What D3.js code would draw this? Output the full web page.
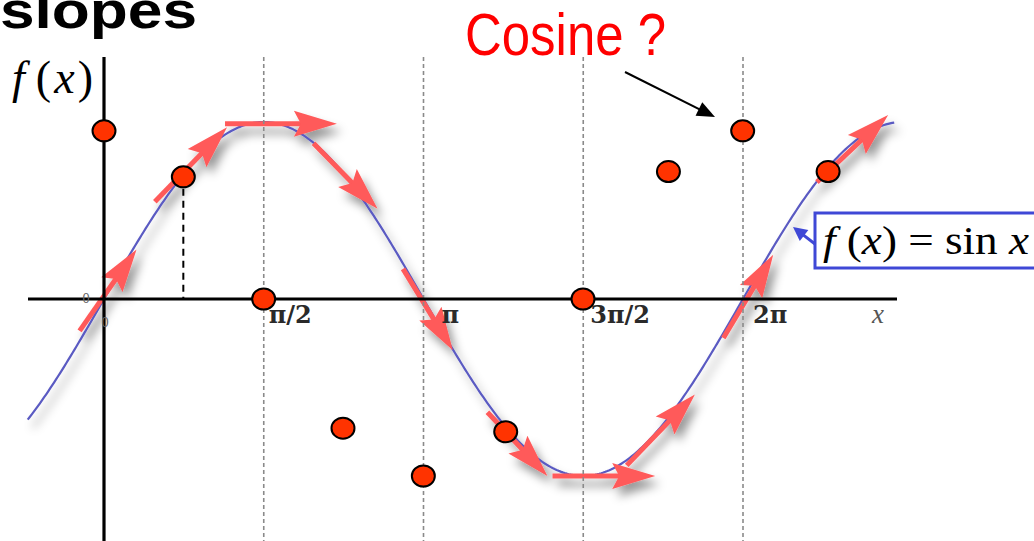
<!DOCTYPE html>
<html>
<head>
<meta charset="utf-8">
<script src="https://cdn.jsdelivr.net/npm/d3@7"></script>
<style>
  html, body { margin: 0; padding: 0; background: #fff; }
  svg { display: block; }
</style>
</head>
<body>
<svg id="chart" width="1034" height="541"></svg>
<script>
// ---- data -------------------------------------------------------------
// tick marks along x (radians) and their labels
const tickValues = [Math.PI / 2, Math.PI, 3 * Math.PI / 2, 2 * Math.PI];
const tickLabels = ["π/2", "π", "3π/2", "2π"];

// extent of the plotted sine curve (radians)
const curveDomain = [-0.75, 7.78];

// hand-placed cosine estimates (dots): x in radians, value
const dotX = [0, 0.78, 1.57, 2.35, 3.14, 3.95, 4.71, 5.55, 6.28, 7.12];
const dotY = [0.95, 0.69, 0, -0.73, -1.0, -0.75, 0, 0.72, 0.95, 0.72];

// slope arrows drawn along the curve: start and end points (x rad, y value)
const arrowX0 = [-0.24, 0.50, 1.19, 2.06, 2.94, 3.77, 4.41, 5.14, 6.09, 7.01];
const arrowY0 = [-0.18, 0.55, 0.99, 0.88, 0.17, -0.64, -1.0, -0.94, -0.22, 0.66];
const arrowX1 = [0.32, 1.21, 2.29, 2.69, 3.43, 4.36, 5.42, 5.81, 6.58, 7.71];
const arrowY1 = [0.28, 0.97, 0.99, 0.51, -0.29, -1.0, -1.0, -0.54, 0.25, 1.04];

// dashed drop line from the π/4 estimate
const dropX = 0.78;
const dropY = 0.69;

// ---- scales -----------------------------------------------------------
const x = d3.scaleLinear().domain([0, 2 * Math.PI]).range([104, 743]);
const y = d3.scaleLinear().domain([-1, 1]).range([476, 122]);

const svg = d3.select("#chart");
const defs = svg.append("defs");

const shadow = defs.append("filter").attr("id", "soft")
  .attr("x", "-20%").attr("y", "-20%").attr("width", "140%").attr("height", "140%");
shadow.append("feDropShadow")
  .attr("dx", 5).attr("dy", 8).attr("stdDeviation", 5)
  .attr("flood-color", "#000").attr("flood-opacity", 0.4);

// ---- title fragments ---------------------------------------------------
svg.append("text")
  .attr("x", 0).attr("y", 28)
  .attr("font-family", "Liberation Sans, Arial, sans-serif")
  .attr("font-weight", "bold").attr("font-size", 52)
  .attr("textLength", 197).attr("lengthAdjust", "spacingAndGlyphs")
  .text("slopes");

svg.append("text")
  .attr("x", 465).attr("y", 55)
  .attr("font-family", "Liberation Sans Narrow, Arial Narrow, Liberation Sans, sans-serif")
  .attr("font-size", 60).attr("fill", "#ff0000")
  .attr("textLength", 201).attr("lengthAdjust", "spacingAndGlyphs")
  .text("Cosine ?");

// ---- curve + slope arrows (with soft shadow) --------------------------
const plot = svg.append("g").attr("filter", "url(#soft)");

const samples = d3.range(curveDomain[0], curveDomain[1] + 0.001, 0.02);
const line = d3.line().x(d => x(d)).y(d => y(Math.sin(d)));
plot.append("path")
  .attr("d", line(samples))
  .attr("fill", "none").attr("stroke", "#5a5ac2").attr("stroke-width", 2.2);

const arrowColor = "#ff5a5a";
const headLen = 43, headHalf = 13, notch = 7;
arrowX0.forEach((_, i) => {
  const p0 = [x(arrowX0[i]), y(arrowY0[i])];
  const p1 = [x(arrowX1[i]), y(arrowY1[i])];
  const dx = p1[0] - p0[0], dy = p1[1] - p0[1];
  const len = Math.hypot(dx, dy);
  const ux = dx / len, uy = dy / len;
  const stop = [p1[0] - ux * (headLen - notch - 2), p1[1] - uy * (headLen - notch - 2)];
  plot.append("line")
    .attr("x1", p0[0]).attr("y1", p0[1])
    .attr("x2", stop[0]).attr("y2", stop[1])
    .attr("stroke", arrowColor).attr("stroke-width", 5);
  const bx = p1[0] - ux * headLen, by = p1[1] - uy * headLen;
  const nx = -uy, ny = ux;
  const pts = [
    [p1[0], p1[1]],
    [bx + nx * headHalf, by + ny * headHalf],
    [p1[0] - ux * (headLen - notch), p1[1] - uy * (headLen - notch)],
    [bx - nx * headHalf, by - ny * headHalf]
  ];
  plot.append("path")
    .attr("d", "M" + pts.map(p => p.join(",")).join("L") + "Z")
    .attr("fill", arrowColor);
});

// ---- dotted guide lines at the labelled ticks --------------------------
svg.append("g").selectAll("line").data(tickValues).join("line")
  .attr("x1", d => x(d)).attr("x2", d => x(d))
  .attr("y1", 57).attr("y2", 541)
  .attr("stroke", "#8a8a8a").attr("stroke-width", 1.6)
  .attr("stroke-dasharray", "4,3");

// ---- axes --------------------------------------------------------------
svg.append("line")
  .attr("x1", 28).attr("x2", 897).attr("y1", y(0)).attr("y2", y(0))
  .attr("stroke", "#000").attr("stroke-width", 3.2);
svg.append("line")
  .attr("x1", x(0)).attr("x2", x(0)).attr("y1", 57).attr("y2", 541)
  .attr("stroke", "#000").attr("stroke-width", 3.2);

// origin marks
svg.append("text").attr("x", x(0) - 18).attr("y", y(0) + 4)
  .attr("text-anchor", "middle").attr("font-family", "DejaVu Serif, serif")
  .attr("font-size", 12).attr("fill", "#666").text("0");
svg.append("text").attr("x", x(0) + 1).attr("y", y(0) + 28)
  .attr("text-anchor", "middle").attr("font-family", "DejaVu Serif, serif")
  .attr("font-size", 12).attr("fill", "#666").text("0");

// tick labels
const labelNudge = [5, 18, 7, 10];
svg.append("g").selectAll("text").data(tickValues).join("text")
  .attr("x", (d, i) => x(d) + labelNudge[i])
  .attr("y", y(0) + 24)
  .attr("font-family", "DejaVu Serif, serif")
  .attr("font-weight", "bold").attr("font-size", 24)
  .attr("fill", "#2a2a2a")
  .text((d, i) => tickLabels[i]);

svg.append("text")
  .attr("x", 872).attr("y", y(0) + 24)
  .attr("font-family", "Liberation Serif, serif").attr("font-style", "italic")
  .attr("font-size", 27).attr("fill", "#555")
  .text("x");

// y axis name f(x)
const fx = svg.append("text")
  .attr("x", 12).attr("y", 93)
  .attr("font-family", "Liberation Serif, Times New Roman, serif")
  .attr("font-size", 46)
  .attr("textLength", 81).attr("lengthAdjust", "spacing");
fx.append("tspan").attr("font-style", "italic").text("f");
fx.append("tspan").attr("dx", 8).text("(");
fx.append("tspan").attr("font-style", "italic").text("x");
fx.append("tspan").text(")");

// dashed drop line from the π/4 dot
svg.append("line")
  .attr("x1", x(dropX)).attr("x2", x(dropX))
  .attr("y1", y(dropY)).attr("y2", y(0))
  .attr("stroke", "#000").attr("stroke-width", 2)
  .attr("stroke-dasharray", "7,5");

// ---- cosine estimate dots --------------------------------------------
svg.append("g").selectAll("ellipse").data(dotX).join("ellipse")
  .attr("cx", d => x(d))
  .attr("cy", (d, i) => y(dotY[i]))
  .attr("rx", 11.5).attr("ry", 10.5)
  .attr("fill", "#ff3300").attr("stroke", "#000").attr("stroke-width", 2);

// ---- annotation pointers ---------------------------------------------
function pointer(x1, y1, x2, y2, color, width, hl, hw) {
  const dx = x2 - x1, dy = y2 - y1, L = Math.hypot(dx, dy);
  const ux = dx / L, uy = dy / L, nx = -uy, ny = ux;
  svg.append("line")
    .attr("x1", x1).attr("y1", y1)
    .attr("x2", x2 - ux * hl * 0.8).attr("y2", y2 - uy * hl * 0.8)
    .attr("stroke", color).attr("stroke-width", width);
  const bx = x2 - ux * hl, by = y2 - uy * hl;
  svg.append("path")
    .attr("d", `M${x2},${y2}L${bx + nx * hw},${by + ny * hw}L${bx - nx * hw},${by - ny * hw}Z`)
    .attr("fill", color);
}
pointer(625, 72, 715, 117, "#000", 2, 18, 7.5);

// ---- function label box ------------------------------------------------
svg.append("rect")
  .attr("x", 815).attr("y", 213).attr("width", 240).attr("height", 55)
  .attr("fill", "#fff").attr("stroke", "#3f48d6").attr("stroke-width", 3);
pointer(815, 244, 793, 227, "#3f48d6", 3, 14, 7);

const fl = svg.append("text")
  .attr("x", 823).attr("y", 254)
  .attr("font-family", "Liberation Serif, Times New Roman, serif")
  .attr("font-size", 40)
  .attr("textLength", 206).attr("lengthAdjust", "spacingAndGlyphs");
fl.append("tspan").attr("font-style", "italic").text("f");
fl.append("tspan").text(" (");
fl.append("tspan").attr("font-style", "italic").text("x");
fl.append("tspan").text(") = sin ");
fl.append("tspan").attr("font-style", "italic").text("x");
</script>
</body>
</html>
